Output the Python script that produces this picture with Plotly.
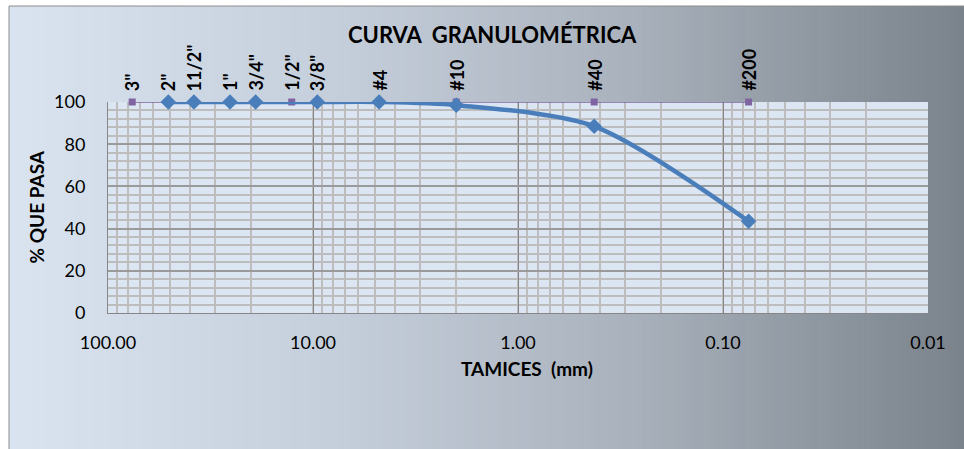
import math
import plotly.graph_objects as go

# Sieve series (opening size in mm) with its labels
sieve_labels = ['3"', '2"', '11/2"', '1"', '3/4"', '1/2"', '3/8"', '#4', '#10', '#40', '#200']
sieve_mm = [76.2, 50.8, 38.1, 25.4, 19.05, 12.7, 9.525, 4.76, 2.0, 0.425, 0.075]
sieve_ref = [100, 100, 100, 100, 100, 100, 100, 100, 100, 100, 100]

# Grading curve: percent passing per sieve
sample_mm = [50.8, 38.1, 25.4, 19.05, 9.525, 4.76, 2.0, 0.425, 0.075]
sample_pass = [100, 100, 100, 100, 100, 100, 98.5, 88.5, 43.5]

x_ticks = [100, 10, 1, 0.1, 0.01]
x_tick_text = ["100.00", "10.00", "1.00", "0.10", "0.01"]

W, H = 964, 449
L, R, T, B = 108, 928, 102, 313
FONT = "Lato"


def px_x(p):
    return (p - L) / (R - L)


def px_y(p):
    return (B - p) / (B - T)


def hex2rgb(h):
    h = h.lstrip("#")
    return [int(h[i:i + 2], 16) for i in (0, 2, 4)]


def lerp_color(stops, t):
    for (t0, c0), (t1, c1) in zip(stops, stops[1:]):
        if t <= t1:
            f = (t - t0) / (t1 - t0) if t1 > t0 else 0
            a, b = hex2rgb(c0), hex2rgb(c1)
            return "rgb(%d,%d,%d)" % tuple(round(a[i] + (b[i] - a[i]) * f) for i in range(3))
    return stops[-1][1]


grad_stops = [(0.0, "#d9e4f0"), (0.35, "#c4ceda"), (0.65, "#a9b1bc"), (1.0, "#7a828b")]

shapes = []
x0, x1 = 9, W + 2
n = 160
step = (x1 - x0) / n
for i in range(n):
    a = x0 + i * step
    shapes.append(dict(
        type="rect", layer="below", xref="paper", yref="paper",
        x0=px_x(a), x1=px_x(a + step + 0.8), y0=px_y(6), y1=px_y(H + 2),
        fillcolor=lerp_color(grad_stops, (i + 0.5) / n), line=dict(width=0),
    ))
# chart frame
shapes.append(dict(type="rect", layer="below", xref="paper", yref="paper",
                   x0=px_x(9), x1=px_x(W + 5), y0=px_y(6), y1=px_y(H + 5),
                   line=dict(color="#8c8c8c", width=1), fillcolor="rgba(0,0,0,0)"))
# plot area fill
shapes.append(dict(type="rect", layer="below", xref="paper", yref="paper",
                   x0=0, x1=1, y0=0, y1=1, fillcolor="#dce6f2", line=dict(width=0)))

fig = go.Figure()

fig.add_trace(go.Scatter(
    x=sieve_mm, y=sieve_ref, mode="lines+markers",
    line=dict(color="#8064a2", width=1.5),
    marker=dict(symbol="square", size=7, color="#8064a2"),
    cliponaxis=False, hoverinfo="skip", showlegend=False,
))
fig.add_trace(go.Scatter(
    x=sample_mm, y=sample_pass, mode="lines+markers",
    line=dict(color="#4a7ebb", width=4.5, shape="spline", smoothing=0.8),
    marker=dict(symbol="diamond", size=12, color="#4a7ebb"),
    cliponaxis=False, showlegend=False,
))

annotations = []
for lab, mm, v in zip(sieve_labels, sieve_mm, sieve_ref):
    annotations.append(dict(
        x=math.log10(mm), y=v, xref="x", yref="y", text="<b>%s</b>" % lab,
        textangle=-90, showarrow=False, xanchor="center", yanchor="bottom",
        yshift=9, font=dict(family=FONT, size=18, color="#000000"),
    ))

annotations += [
    dict(x=px_x(492), y=px_y(35), xref="paper", yref="paper",
         text="<b>CURVA  GRANULOMÉTRICA</b>", showarrow=False,
         xanchor="center", yanchor="middle",
         font=dict(family=FONT, size=22, color="#000000")),
    dict(x=px_x(36), y=0.5, xref="paper", yref="paper",
         text="<b>% QUE PASA</b>", showarrow=False, textangle=-90,
         xanchor="center", yanchor="middle",
         font=dict(family=FONT, size=19, color="#000000")),
    dict(x=px_x(527), y=px_y(368), xref="paper", yref="paper",
         text="<b>TAMICES  (mm)</b>", showarrow=False,
         xanchor="center", yanchor="middle",
         font=dict(family=FONT, size=19, color="#000000")),
]

fig.update_layout(
    width=W, height=H,
    margin=dict(l=L, r=W - R, t=T, b=H - B, pad=0),
    paper_bgcolor="#ffffff",
    plot_bgcolor="rgba(0,0,0,0)",
    shapes=shapes,
    annotations=annotations,
    showlegend=False,
    font=dict(family=FONT, size=18, color="#000000"),
)

fig.update_xaxes(
    type="log", range=[2, -2],
    tickmode="array", tickvals=x_ticks, ticktext=x_tick_text,
    tickfont=dict(family=FONT, size=18, color="#000000"),
    ticks="", ticklabelstandoff=13,
    showgrid=True, gridcolor="#858585", gridwidth=1,
    minor=dict(dtick="D1", showgrid=True, gridcolor="#bdbdbd", gridwidth=1.5),
    showline=True, linecolor="#868686", linewidth=1,
    zeroline=False,
)
fig.update_yaxes(
    range=[0, 100],
    tickmode="array", tickvals=[0, 20, 40, 60, 80, 100],
    tickfont=dict(family=FONT, size=18, color="#000000"),
    ticks="", ticklabelstandoff=18,
    showgrid=True, gridcolor="#9a9a9a", gridwidth=1.5,
    minor=dict(dtick=4, showgrid=True, gridcolor="#bdbdbd", gridwidth=1.5),
    showline=True, linecolor="#868686", linewidth=1,
    zeroline=False,
)

fig.write_html("out.html")
